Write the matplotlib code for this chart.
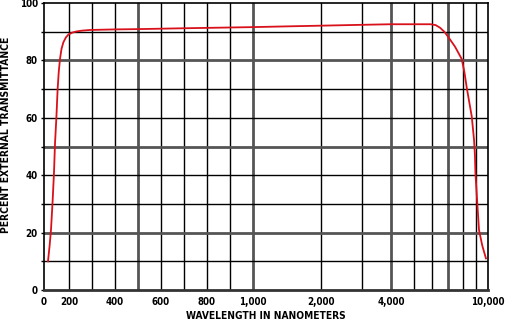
import numpy as np
import matplotlib
matplotlib.use("Agg")
import matplotlib.pyplot as plt
from matplotlib import font_manager as fm
from matplotlib.ticker import FixedLocator, FixedFormatter, NullLocator

# ---- data ----
wavelength = [32, 45, 56, 69, 80, 88, 99, 109, 118, 128, 140, 155, 175, 195, 215, 233, 260, 291,
              400, 500, 700, 1000, 1500, 2000, 3000, 4000, 5000, 5900, 6200, 6470, 6750, 7000,
              7450, 7910, 8100, 8270, 8650, 8830, 8900, 8940, 9080, 9230, 9500, 9820]
transmittance = [10, 15.5, 21, 31, 41, 51, 60, 70, 76, 80.5, 84, 86.3, 88, 89, 89.7, 90.1, 90.4, 90.6,
                 90.8, 90.9, 91.2, 91.6, 91.9, 92.1, 92.4, 92.6, 92.6, 92.6, 92.3, 91.4, 90, 88.3,
                 84.8, 80.5, 76, 70.6, 60.5, 52.3, 47, 40.7, 30.8, 20.9, 15.5, 11.0]

x_tick_values = [0, 200, 400, 600, 800, 1000, 2000, 4000, 10000]
x_tick_labels = ["0", "200", "400", "600", "800", "1,000", "2,000", "4,000", "10,000"]
y_tick_values = [0, 20, 40, 60, 80, 100]
y_tick_labels = ["0", "20", "40", "60", "80", "100"]

grid_x_black = [200, 300, 400, 600, 700, 800, 900, 2000, 3000, 5000, 6000, 8000, 9000]
grid_x_gray = [500, 1000, 4000, 7000]
grid_y_black = [10, 30, 40, 60, 70, 90]
grid_y_gray = [20, 50, 80]

# ---- the chart's own non-uniform wavelength axis ----
LOG_W = np.log10([1000, 2000, 4000, 7000, 10000])
LOG_U = np.array([209, 277, 347, 404, 444], dtype=float)

def fwd(w):
    w = np.asarray(w, dtype=float)
    lin = np.where(w <= 200, w * 0.125, 25 + (w - 200) * 0.23)
    lg = np.interp(np.log10(np.maximum(w, 1.0)), LOG_W, LOG_U)
    return np.where(w <= 1000, lin, lg)

_WT = np.concatenate([np.linspace(0, 1000, 2001), np.logspace(3, 4.05, 3000)[1:]])
_UT = fwd(_WT)

def inv(u):
    u = np.asarray(u, dtype=float)
    return np.interp(u, _UT, _WT)

# font choice: prefer a narrow/condensed bold face
names = {f.name for f in fm.fontManager.ttflist}
stretch = 'normal'
if 'Liberation Sans Narrow' in names:
    family = ['Liberation Sans Narrow', 'DejaVu Sans']
else:
    cond = [f for f in fm.fontManager.ttflist if f.name == 'DejaVu Sans' and 'ondensed' in str(f.stretch)]
    family = ['DejaVu Sans']
    if cond:
        stretch = 'condensed'
plt.rcParams['font.family'] = family
plt.rcParams['font.weight'] = 'bold'
plt.rcParams['font.stretch'] = stretch

fig = plt.figure(figsize=(5.11, 3.34), dpi=100)
ax = fig.add_axes([44 / 511, 1 - 290 / 334, 444 / 511, 287 / 334])
ax.set_xscale('function', functions=(fwd, inv))
ax.set_xlim(0, 10000)
ax.set_ylim(0, 100)

for gx in grid_x_black:
    ax.axvline(gx, color='black', lw=1.0, zorder=1)
for gx in grid_x_gray:
    ax.axvline(gx, color='#555555', lw=2.0, zorder=1)
for gy in grid_y_black:
    ax.axhline(gy, color='black', lw=1.0, zorder=1)
for gy in grid_y_gray:
    ax.axhline(gy, color='#555555', lw=2.0, zorder=1)

ax.plot(wavelength, transmittance, color='#d8111b', lw=1.3, zorder=3)

ax.xaxis.set_major_locator(FixedLocator(x_tick_values))
ax.xaxis.set_major_formatter(FixedFormatter(x_tick_labels))
ax.xaxis.set_minor_locator(NullLocator())
ax.yaxis.set_major_locator(FixedLocator(list(range(0, 101, 10))))
ax.yaxis.set_major_formatter(FixedFormatter([str(v) if v in y_tick_values else "" for v in range(0, 101, 10)]))
ax.yaxis.set_minor_locator(NullLocator())

ax.tick_params(axis='x', length=0, pad=5, labelsize=7)
ax.tick_params(axis='y', length=2.5, width=1, pad=2, labelsize=7)

for side in ['top', 'right', 'left']:
    ax.spines[side].set_color('black')
    ax.spines[side].set_linewidth(1.2)
ax.spines['bottom'].set_color('#333333')
ax.spines['bottom'].set_linewidth(2.0)

xl = ax.set_xlabel("WAVELENGTH IN NANOMETERS", fontsize=8, fontweight='bold', labelpad=3)
yl = fig.text(6.5 / 511, 1 - 135 / 334, "PERCENT EXTERNAL TRANSMITTANCE", rotation=90,
              ha='center', va='center', fontsize=8, fontweight='bold')

# fit label sizes to the reference's measured text extents
fig.canvas.draw()
r = fig.canvas.get_renderer()
w = xl.get_window_extent(r).width
xl.set_fontsize(8 * 159.0 / w)
h = yl.get_window_extent(r).height
yl.set_fontsize(8 * 196.0 / h)

fig.savefig("out.png", dpi=100, facecolor='white')
